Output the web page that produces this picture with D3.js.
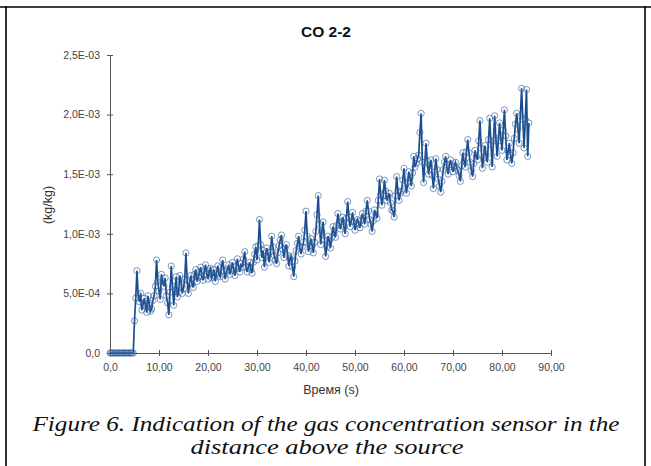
<!DOCTYPE html>
<html><head><meta charset="utf-8">
<script src="https://cdn.jsdelivr.net/npm/d3@7/dist/d3.min.js"></script>
<style>body{margin:0;background:#fff}svg{display:block}</style>
</head><body>
<script>
// Sampling: one reading every 0.25 s starting at t = 0
const sampleStep = 0.25;
// Concentration readings in units of 1e-4 kg/kg, one row per 5 s
const valuesE4 = [
0,0,0,0,0,0,0,0,0,0,0,0,0,0,0,0,0,0,0,0,
2.7,4.6,6.9,4.9,4.3,5.0,3.6,4.1,4.6,3.9,3.4,4.8,4.2,3.5,3.7,4.4,4.8,5.6,7.8,6.0,
5.2,4.5,6.6,6.0,5.6,6.3,4.8,4.2,3.2,5.1,7.3,5.6,4.0,5.3,6.4,4.7,5.1,6.5,6.0,5.0,
5.4,6.2,8.4,6.1,5.0,5.9,6.5,5.8,5.5,6.6,7.0,6.0,6.3,6.8,7.2,6.4,6.1,6.9,7.4,6.6,
6.2,6.9,7.1,6.3,6.5,7.0,6.0,6.7,7.3,6.6,6.4,7.2,7.8,6.9,6.2,6.8,7.0,7.4,6.6,7.1,
7.6,6.9,6.5,7.3,7.9,7.1,6.8,7.5,7.2,7.9,8.5,7.2,6.8,7.3,7.6,7.0,6.7,7.6,8.3,8.9,
7.8,9.0,11.2,9.1,8.0,8.6,7.2,8.1,8.8,8.2,7.6,8.5,9.8,8.9,8.2,7.8,7.5,8.4,9.0,9.5,
9.9,8.7,8.0,8.8,9.1,8.2,7.3,7.9,8.1,7.2,6.4,7.7,8.6,9.2,9.8,8.8,8.3,8.9,9.3,10.3,
11.9,9.8,8.5,9.0,9.6,9.0,8.4,9.3,10.2,11.6,13.2,10.8,9.1,10.2,11.0,9.5,8.1,8.9,9.8,9.4,
8.8,9.7,10.6,10.1,9.7,10.7,11.7,10.9,10.4,11.0,11.4,10.6,10.0,11.3,12.7,11.4,10.6,11.1,11.8,11.0,
10.3,10.9,11.2,10.8,10.5,11.1,11.7,11.3,10.8,11.9,12.8,11.9,11.2,10.8,10.2,11.1,12.0,11.6,11.3,12.8,
14.6,13.3,12.4,13.2,14.5,13.6,12.8,13.1,13.4,12.6,12.0,11.9,11.4,13.2,14.8,13.6,12.8,13.4,13.6,14.5,
15.5,14.2,13.4,14.3,15.2,14.7,14.0,15.1,16.5,15.6,15.9,16.3,16.6,18.5,20.1,16.0,14.3,16.0,17.6,16.1,
15.0,15.7,16.2,14.9,13.8,15.2,16.3,15.4,14.6,14.0,13.5,14.4,15.4,16.0,16.5,15.6,15.0,15.8,16.2,15.6,
15.2,15.7,16.0,15.5,15.3,14.9,14.4,15.7,16.8,16.1,15.6,16.9,17.9,16.8,16.0,15.3,14.8,15.9,17.0,16.5,
16.2,17.8,19.5,17.2,15.5,16.4,17.4,16.6,16.0,17.9,19.7,17.5,15.6,17.8,19.9,18.0,16.5,17.8,19.3,18.1,
17.0,18.7,20.4,18.2,16.2,16.9,17.6,16.6,15.9,16.8,18.0,19.2,20.1,18.8,17.6,19.9,22.2,19.6,17.2,19.6,
22.1,16.5,19.3];
const xTicks = [0,10,20,30,40,50,60,70,80,90];
const xTickLabels = ["0,0","10,00","20,00","30,00","40,00","50,00","60,00","70,00","80,00","90,00"];
const yTicks = [0,0.0005,0.001,0.0015,0.002,0.0025];
const yTickLabels = ["0,0","5,0E-04","1,0E-03","1,5E-03","2,0E-03","2,5E-03"];
const title = "CO 2-2";
const xTitle = "Время (s)";
const yTitle = "(kg/kg)";
const caption1 = "Figure 6. Indication of the gas concentration sensor in the";
const caption2 = "distance above the source";

const W = 651, H = 466;
const data = valuesE4.map((v,i)=>({t: i*sampleStep, v: v*1e-4}));
const svg = d3.select("body").append("svg").attr("width",W).attr("height",H);

// frame
svg.append("line").attr("x1",0).attr("x2",W).attr("y1",7).attr("y2",7).attr("stroke","#000").attr("stroke-width",1.6);
svg.append("line").attr("x1",6).attr("x2",6).attr("y1",6).attr("y2",H).attr("stroke","#000").attr("stroke-width",1.6);
svg.append("line").attr("x1",645).attr("x2",645).attr("y1",6).attr("y2",H).attr("stroke","#000").attr("stroke-width",1.6);

const x = d3.scaleLinear().domain([0,90]).range([110,551]);
const y = d3.scaleLinear().domain([0,0.0025]).range([353,55]);

const axisColor = "#555";
const gx = svg.append("g").attr("transform",`translate(0,${y(0)})`)
  .call(d3.axisBottom(x).tickValues(xTicks).tickFormat((d,i)=>xTickLabels[i]).tickSizeOuter(0).tickSizeInner(4).tickPadding(7));
gx.selectAll(".tick line").attr("y1",-3).attr("y2",3).attr("stroke",axisColor);
gx.select(".domain").attr("stroke",axisColor);
gx.selectAll("text").attr("font-family","Liberation Sans, Arial, sans-serif").attr("font-size",10.5).attr("fill","#444");

const gy = svg.append("g").attr("transform",`translate(${x(0)},0)`)
  .call(d3.axisLeft(y).tickValues(yTicks).tickFormat((d,i)=>yTickLabels[i]).tickSizeOuter(0).tickSizeInner(4).tickPadding(6));
gy.selectAll(".tick line").attr("x1",-3).attr("x2",3).attr("stroke",axisColor);
gy.select(".domain").attr("stroke",axisColor);
gy.selectAll("text").attr("font-family","Liberation Sans, Arial, sans-serif").attr("font-size",10.5).attr("fill","#444");

// series
const blue = "#1b4d8e";
svg.append("path").datum(data).attr("fill","none").attr("stroke",blue).attr("stroke-width",1.7)
  .attr("d", d3.line().x(d=>x(d.t)).y(d=>y(d.v)));
svg.append("g").selectAll("circle").data(data).join("circle")
  .attr("cx",d=>x(d.t)).attr("cy",d=>y(d.v)).attr("r",3.1)
  .attr("fill","none").attr("stroke","#2f5f9d").attr("stroke-width",0.8).attr("stroke-opacity",0.8);

// titles
svg.append("text").attr("x",326).attr("y",37).attr("text-anchor","middle")
  .attr("font-family","Liberation Sans, Arial, sans-serif").attr("font-weight","bold").attr("font-size",15.5).attr("fill","#111").text(title);
svg.append("text").attr("x",331).attr("y",394).attr("text-anchor","middle")
  .attr("font-family","Liberation Sans, Arial, sans-serif").attr("font-size",12.5).attr("fill","#333").text(xTitle);
svg.append("text").attr("transform","translate(52,205) rotate(-90)").attr("text-anchor","middle")
  .attr("font-family","Liberation Sans, Arial, sans-serif").attr("font-size",12.5).attr("fill","#333").text(yTitle);

// caption
const cap = svg.append("g").style("font-family","'Liberation Serif', 'Times New Roman', serif").style("font-style","italic").style("font-size","21px").attr("fill","#111");
cap.append("text").attr("x",326).attr("y",431).attr("text-anchor","middle").attr("textLength",587).attr("lengthAdjust","spacingAndGlyphs").text(caption1);
cap.append("text").attr("x",327).attr("y",454).attr("text-anchor","middle").attr("textLength",273).attr("lengthAdjust","spacingAndGlyphs").text(caption2);
</script>
</body></html>
